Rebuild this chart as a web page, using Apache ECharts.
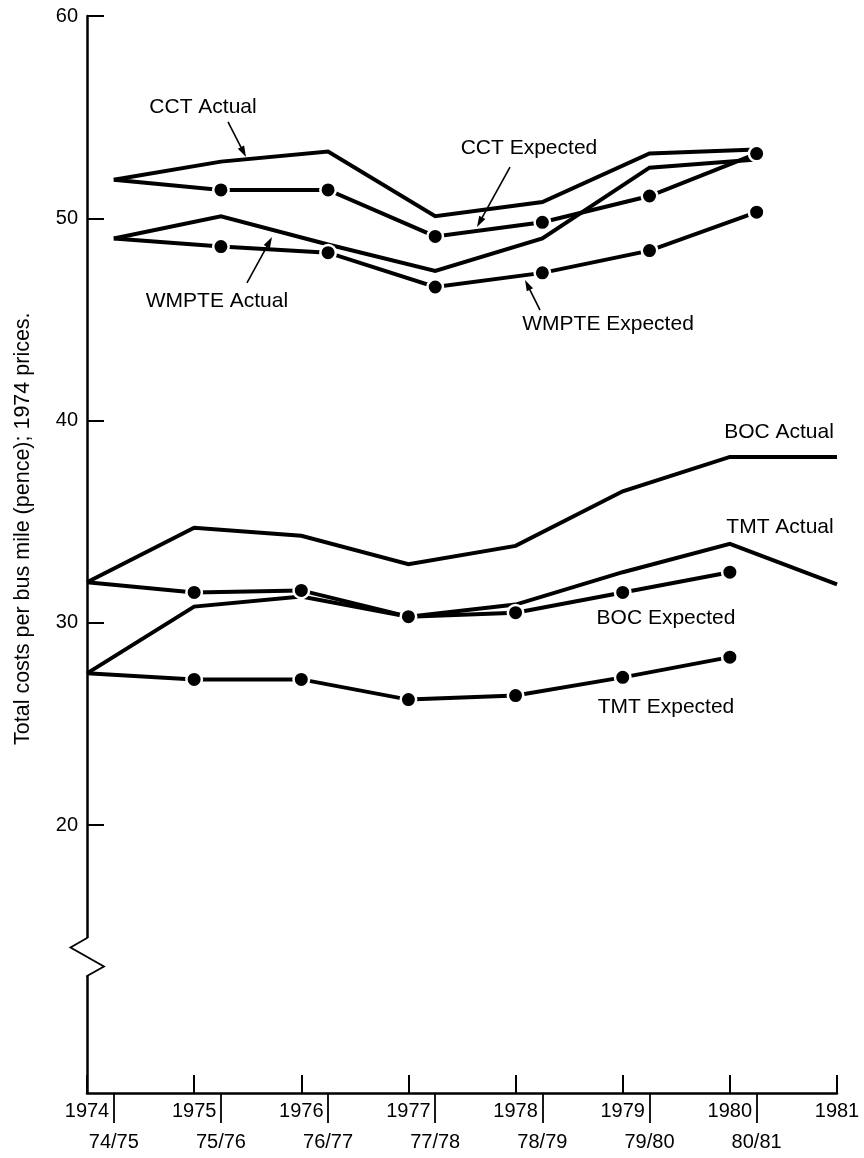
<!DOCTYPE html>
<html><head><meta charset="utf-8">
<script src="https://cdn.jsdelivr.net/npm/echarts@6/dist/echarts.min.js"></script>
<style>html,body{margin:0;padding:0;background:#fff}#c{width:864px;height:1158px}</style>
</head><body><div id="c"></div>
<script>
// ---- data ----
const calendarYears = [1974, 1975, 1976, 1977, 1978, 1979, 1980, 1981];
const fiscalYears = ['74/75', '75/76', '76/77', '77/78', '78/79', '79/80', '80/81'];
const yTickValues = [20, 30, 40, 50, 60];
const FISCAL_OFFSET = 0.25; // financial year starts in April

// CCT and WMPTE: by financial year (74/75 .. 80/81)
const cctActual     = [51.9, 52.8, 53.3, 50.1, 50.8, 53.2, 53.4];
const cctExpected   = [51.9, 51.4, 51.4, 49.1, 49.8, 51.1, 53.2];
const wmpteActual   = [49.0, 50.1, 48.7, 47.4, 49.0, 52.5, 52.9];
const wmpteExpected = [49.0, 48.6, 48.3, 46.6, 47.3, 48.4, 50.3];
// BOC and TMT: by calendar year (1974 .. 1981)
const bocActual   = [32.0, 34.7, 34.3, 32.9, 33.8, 36.5, 38.2, 38.2];
const bocExpected = [32.0, 31.5, 31.6, 30.3, 30.5, 31.5, 32.5];
const tmtActual   = [27.5, 30.8, 31.3, 30.3, 30.9, 32.5, 33.9, 31.9];
const tmtExpected = [27.5, 27.2, 27.2, 26.2, 26.4, 27.3, 28.3];

const yTitle = 'Total costs per bus mile (pence); 1974 prices.';

// annotation placement (in data units)
const annotations = [
  {text: 'CCT Actual',     at: [1975.083, 55.50]},
  {text: 'WMPTE Actual',   at: [1975.213, 45.91]},
  {text: 'CCT Expected',   at: [1978.125, 53.47]},
  {text: 'WMPTE Expected', at: [1978.863, 44.77]},
  {text: 'BOC Actual',     at: [1980.459, 39.43]},
  {text: 'TMT Actual',     at: [1980.468, 34.73]},
  {text: 'BOC Expected',   at: [1979.404, 30.23]},
  {text: 'TMT Expected',   at: [1979.404, 25.83]}
];
const arrows = [
  {from: [1975.316, 54.76], to: [1975.484, 53.03]},
  {from: [1975.493, 46.80], to: [1975.727, 49.07]},
  {from: [1977.948, 52.53], to: [1977.640, 49.57]},
  {from: [1978.228, 45.46], to: [1978.088, 46.95]}
];
const BREAK_VALUE = 13.5;
const Y_TITLE_CENTER = 34.65;

// ---- chart ----
const FONT = "'Liberation Sans', Arial, Helvetica, sans-serif";
const fiscalX = fiscalYears.map((s, i) => calendarYears[i] + FISCAL_OFFSET);
const calX = calendarYears;

function lineSeries(name, xs, vals, expected) {
  return {
    name, type: 'line', xAxisIndex: 0, yAxisIndex: 0,
    data: vals.map((v, i) => (expected && i === 0) ? {value: [xs[i], v], symbol: 'none'} : [xs[i], v]),
    symbol: expected ? 'circle' : 'none',
    symbolSize: 15.5, showSymbol: expected, showAllSymbol: true,
    itemStyle: {color: '#000', borderColor: '#fff', borderWidth: 2.5},
    lineStyle: {color: '#000', width: 4, join: 'miter', cap: 'butt'},
    emphasis: {disabled: true},
    z: expected ? 3 : 2,
    silent: true, animation: false
  };
}

const chart = echarts.init(document.getElementById('c'), null, {renderer: 'canvas'});
chart.setOption({
  backgroundColor: '#fff',
  animation: false,
  textStyle: {fontFamily: FONT, color: '#000'},
  grid: {left: 87, right: 27, top: 16, bottom: 65, containLabel: false},
  xAxis: [{
    type: 'value', min: 1974, max: 1981, interval: 1,
    axisLine: {show: true, lineStyle: {color: '#000', width: 2.5}},
    axisTick: {show: true, inside: true, length: 18, lineStyle: {color: '#000', width: 2}},
    axisLabel: {show: true, margin: 8, color: '#000', fontSize: 20, fontFamily: FONT,
      showMinLabel: true, showMaxLabel: true, formatter: v => String(v)},
    splitLine: {show: false}
  }, {
    type: 'value', min: 1974, max: 1981, position: 'bottom',
    axisLine: {show: false},
    axisTick: {show: true, inside: false, length: 30, customValues: fiscalX,
      lineStyle: {color: '#000', width: 1.8}},
    axisLabel: {show: true, customValues: fiscalX, margin: 39, color: '#000', fontSize: 20, fontFamily: FONT,
      formatter: v => fiscalYears[Math.round(v - FISCAL_OFFSET) - calendarYears[0]] || ''},
    splitLine: {show: false}
  }],
  yAxis: {
    type: 'value', min: 6.75, max: 60,
    axisLine: {show: true, lineStyle: {color: '#000', width: 2.5}},
    axisTick: {show: true, inside: true, length: 17, customValues: yTickValues,
      lineStyle: {color: '#000', width: 2}},
    axisLabel: {show: true, customValues: yTickValues, margin: 9, color: '#000', fontSize: 20, fontFamily: FONT},
    splitLine: {show: false}
  },
  series: [
    lineSeries('CCT Actual', fiscalX, cctActual, false),
    lineSeries('CCT Expected', fiscalX, cctExpected, true),
    lineSeries('WMPTE Actual', fiscalX, wmpteActual, false),
    lineSeries('WMPTE Expected', fiscalX, wmpteExpected, true),
    lineSeries('BOC Actual', calX, bocActual, false),
    lineSeries('BOC Expected', calX, bocExpected, true),
    lineSeries('TMT Actual', calX, tmtActual, false),
    lineSeries('TMT Expected', calX, tmtExpected, true)
  ]
});

// ---- annotations, arrows, axis title and axis break drawn from data coordinates ----
const px = p => chart.convertToPixel({xAxisIndex: 0, yAxisIndex: 0}, p);
const g = [];
annotations.forEach(a => {
  const p = px(a.at);
  g.push({type: 'text', x: p[0], y: p[1], z: 10, silent: true,
    style: {text: a.text, fill: '#000', font: "21px " + FONT, textAlign: 'center', textVerticalAlign: 'middle'}});
});
arrows.forEach(a => {
  const t = px(a.from), h = px(a.to);
  const dx = h[0] - t[0], dy = h[1] - t[1], L = Math.hypot(dx, dy);
  const ux = dx / L, uy = dy / L, nx = -uy, ny = ux;
  const hl = 11, hw = 3.5;
  const bx = h[0] - ux * hl, by = h[1] - uy * hl;
  g.push({type: 'line', z: 10, silent: true,
    shape: {x1: t[0], y1: t[1], x2: bx + ux * 3, y2: by + uy * 3},
    style: {stroke: '#000', lineWidth: 1.6}});
  g.push({type: 'polygon', z: 10, silent: true,
    shape: {points: [[h[0], h[1]], [bx + nx * hw, by + ny * hw], [bx - nx * hw, by - ny * hw]]},
    style: {fill: '#000'}});
});
const ax = chart.convertToPixel({xAxisIndex: 0}, calendarYears[0]);
const yc = chart.convertToPixel({yAxisIndex: 0}, BREAK_VALUE);
g.push({type: 'rect', z: 20, silent: true,
  shape: {x: ax - 4, y: yc - 18.5, width: 8, height: 38}, style: {fill: '#fff'}});
g.push({type: 'polyline', z: 21, silent: true,
  shape: {points: [[ax, yc - 19.5], [ax, yc - 18.5], [ax - 16.5, yc - 9], [ax + 17, yc + 10], [ax, yc + 19.5], [ax, yc + 20.5]]},
  style: {stroke: '#000', lineWidth: 1.8, fill: null}});
const ty = chart.convertToPixel({yAxisIndex: 0}, Y_TITLE_CENTER);
g.push({type: 'text', x: ax - 64, y: ty, rotation: Math.PI / 2, z: 10, silent: true,
  style: {text: yTitle, fill: '#000', font: "21.5px " + FONT, textAlign: 'center', textVerticalAlign: 'middle'}});
chart.setOption({graphic: g});
</script>
</body></html>
